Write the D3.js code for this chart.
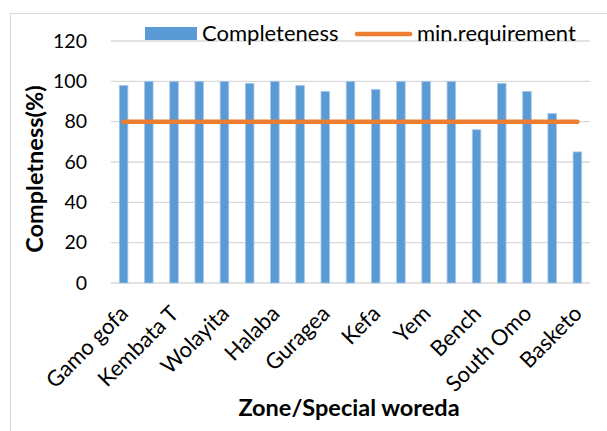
<!DOCTYPE html>
<html>
<head>
<meta charset="utf-8">
<script src="https://cdn.jsdelivr.net/npm/d3@7"></script>
<style>
  html, body { margin: 0; padding: 0; background: #fff; }
  svg { display: block; font-family: Lato, "Open Sans", sans-serif; }
</style>
</head>
<body>
<svg id="chart" width="607" height="431"></svg>
<script>
// Zones / special woredas (every other one is labelled on the axis)
const zones = [
  "Gamo gofa", "Zone 2", "Kembata T", "Zone 4", "Wolayita", "Zone 6",
  "Halaba", "Zone 8", "Guragea", "Zone 10", "Kefa", "Zone 12",
  "Yem", "Zone 14", "Bench", "Zone 16", "South Omo", "Zone 18", "Basketo"
];
const completeness = [98, 100, 100, 100, 100, 99, 100, 98, 95, 100, 96, 100, 100, 100, 76, 99, 95, 84, 65];
const minRequirement = 80;
const yTicks = [0, 20, 40, 60, 80, 100, 120];
const shownLabels = ["Gamo gofa", "Kembata T", "Wolayita", "Halaba", "Guragea", "Kefa", "Yem", "Bench", "South Omo", "Basketo"];

const svg = d3.select("#chart");
const margin = { left: 111, right: 17, top: 41, bottom: 148 };
const W = 607, H = 431;
const FONT = "Lato, sans-serif";

// outer chart frame
svg.append("rect")
  .attr("x", 10.5).attr("y", 13.5)
  .attr("width", 620).attr("height", 440)
  .attr("fill", "none").attr("stroke", "#d9d9d9").attr("stroke-width", 1);

const x = d3.scaleBand()
  .domain(zones)
  .range([margin.left, W - margin.right])
  .paddingInner(0.66).paddingOuter(0.33);

const y = d3.scaleLinear().domain([0, 120]).range([H - margin.bottom, margin.top]);

// horizontal gridlines
svg.append("g").selectAll("line").data(yTicks).join("line")
  .attr("x1", margin.left).attr("x2", W - margin.right)
  .attr("y1", d => y(d)).attr("y2", d => y(d))
  .attr("stroke", "#d9d9d9").attr("stroke-width", 1.3);

// y axis tick labels
const yAxis = d3.axisLeft(y).tickValues(yTicks).tickSize(0).tickPadding(0);
const gy = svg.append("g").attr("transform", `translate(${margin.left - 24},0)`).call(yAxis);
gy.select(".domain").remove();
gy.selectAll("text")
  .attr("font-family", FONT)
  .attr("font-size", 19.5).attr("fill", "#000");

// bars
svg.append("g").selectAll("rect").data(completeness).join("rect")
  .attr("x", (d, i) => x(zones[i]))
  .attr("width", x.bandwidth())
  .attr("y", d => y(d))
  .attr("height", d => y(0) - y(d))
  .attr("fill", "#5b9bd5")
  .attr("stroke", "#a9c8ea").attr("stroke-width", 0.8);

// minimum requirement line across category centres
const centre = z => x(z) + x.bandwidth() / 2;
svg.append("line")
  .attr("x1", centre(zones[0])).attr("x2", centre(zones[zones.length - 1]))
  .attr("y1", y(minRequirement)).attr("y2", y(minRequirement))
  .attr("stroke", "#ed7d31").attr("stroke-width", 4.5).attr("stroke-linecap", "round");

// x axis labels, rotated 45 degrees
svg.append("g").selectAll("text").data(shownLabels).join("text")
  .attr("transform", d => `translate(${centre(d) + 6},${y(0) + 32}) rotate(-45)`)
  .attr("text-anchor", "end")
  .attr("font-family", FONT)
  .attr("font-size", 22).attr("fill", "#000")
  .text(d => d);

// axis titles
svg.append("text")
  .attr("x", 349).attr("y", 416)
  .attr("text-anchor", "middle")
  .attr("font-family", FONT).attr("font-weight", "bold")
  .attr("font-size", 23.5).text("Zone/Special woreda");

svg.append("text")
  .attr("transform", "translate(43,169) rotate(-90)")
  .attr("text-anchor", "middle")
  .attr("font-family", FONT).attr("font-weight", "bold")
  .attr("font-size", 23.5).text("Completness(%)");

// legend
const lg = svg.append("g");
lg.append("rect").attr("x", 145).attr("y", 27).attr("width", 52).attr("height", 13).attr("fill", "#5b9bd5");
lg.append("text").attr("x", 202).attr("y", 40.5).attr("font-size", 22)
  .attr("font-family", FONT).text("Completeness");
lg.append("line").attr("x1", 357).attr("x2", 410).attr("y1", 34).attr("y2", 34)
  .attr("stroke", "#ed7d31").attr("stroke-width", 4.5).attr("stroke-linecap", "round");
lg.append("text").attr("x", 417).attr("y", 40.5).attr("font-size", 22)
  .attr("font-family", FONT).text("min.requirement");
</script>
</body>
</html>
